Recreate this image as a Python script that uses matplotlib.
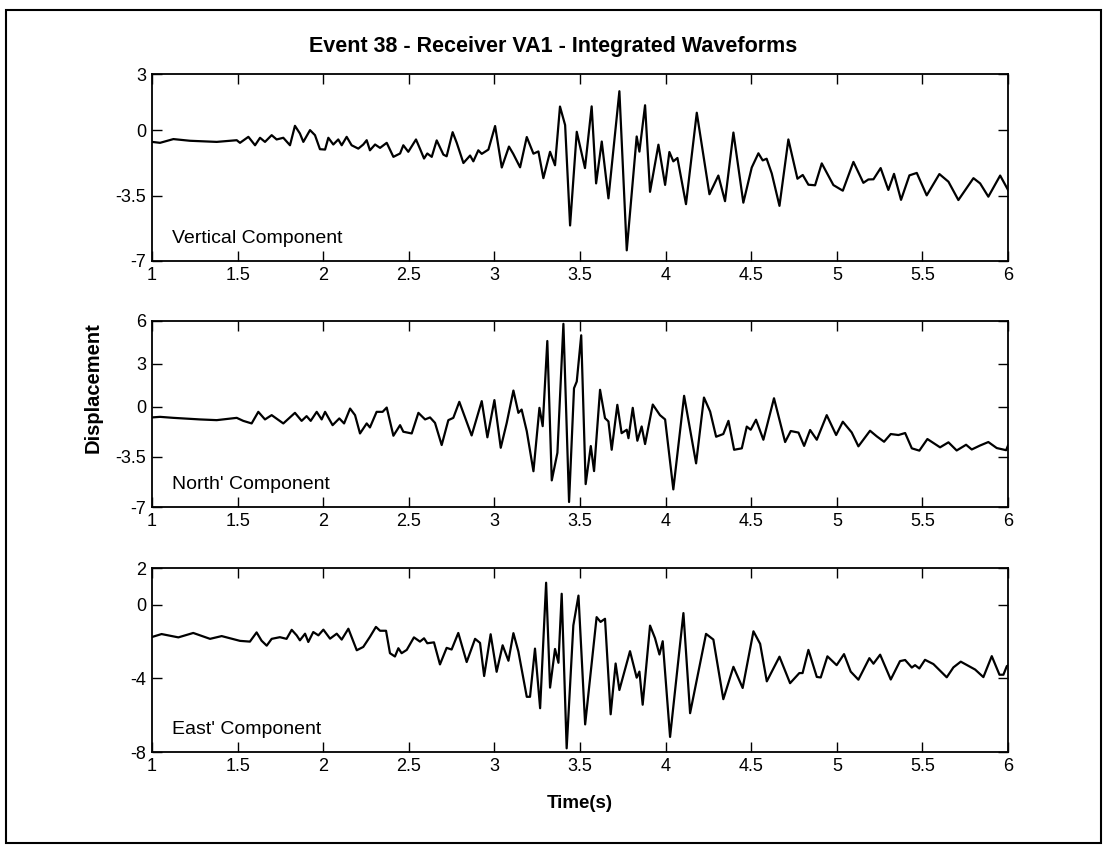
import matplotlib
matplotlib.use("Agg")
import matplotlib.pyplot as plt
from matplotlib.patches import Rectangle

plt.rcParams['font.family'] = ['Liberation Sans', 'DejaVu Sans']

# time axis ticks
xticks = [1, 1.5, 2, 2.5, 3, 3.5, 4, 4.5, 5, 5.5, 6]
xticklabels = ['1', '1.5', '2', '2.5', '3', '3.5', '4', '4.5', '5', '5.5', '6']

# Vertical component
t_vert = [1.0, 1.047, 1.125, 1.222, 1.378, 1.495, 1.514, 1.563, 1.602, 1.631, 1.660, 1.699,
          1.728, 1.767, 1.806, 1.835, 1.864, 1.884, 1.923, 1.952, 1.981, 2.011, 2.030, 2.059,
          2.088, 2.108, 2.137, 2.166, 2.205, 2.234, 2.254, 2.273, 2.303, 2.332, 2.371, 2.410,
          2.449, 2.468, 2.497, 2.542, 2.565, 2.589, 2.608, 2.634, 2.663, 2.702, 2.721, 2.756,
          2.780, 2.819, 2.858, 2.877, 2.906, 2.926, 2.965, 3.004, 3.043, 3.085, 3.11, 3.15,
          3.189, 3.228, 3.257, 3.286, 3.325, 3.354, 3.383, 3.413, 3.442, 3.481, 3.529, 3.568,
          3.594, 3.627, 3.666, 3.730, 3.773, 3.831, 3.847, 3.880, 3.909, 3.958, 3.997, 4.022,
          4.045, 4.069, 4.119, 4.182, 4.256, 4.308, 4.347, 4.396, 4.454, 4.503, 4.542, 4.567,
          4.590, 4.620, 4.665, 4.717, 4.77, 4.801, 4.834, 4.873, 4.912, 4.98, 5.035, 5.097,
          5.155, 5.184, 5.214, 5.256, 5.301, 5.334, 5.375, 5.424, 5.467, 5.525, 5.599, 5.652,
          5.710, 5.798, 5.837, 5.885, 5.954, 6.0]
d_vert = [-0.63, -0.68, -0.48, -0.57, -0.63, -0.54, -0.68, -0.36, -0.81, -0.41, -0.63, -0.27,
          -0.5, -0.41, -0.81, 0.23, -0.18, -0.63, 0.0, -0.27, -1.02, -1.04, -0.41, -0.77,
          -0.5, -0.81, -0.36, -0.81, -0.99, -0.77, -0.54, -1.08, -0.77, -0.95, -0.68, -1.43,
          -1.25, -0.81, -1.16, -0.5, -0.99, -1.52, -1.25, -1.43, -0.55, -1.31, -1.4, -0.11,
          -0.68, -1.76, -1.36, -1.67, -1.08, -1.27, -1.04, 0.22, -2.0, -0.88, -1.27, -1.99,
          -0.37, -1.26, -1.14, -2.57, -1.16, -1.88, 1.26, 0.27, -5.1, -0.09, -2.03, 1.27,
          -2.85, -0.61, -3.65, 2.08, -6.43, -0.34, -1.15, 1.33, -3.3, -0.78, -2.93, -1.17,
          -1.67, -1.49, -3.96, 0.93, -3.43, -2.43, -3.8, -0.13, -3.88, -2.0, -1.24, -1.62,
          -1.53, -2.32, -4.05, -0.5, -2.6, -2.4, -2.92, -2.95, -1.78, -2.94, -3.24, -1.7,
          -2.82, -2.64, -2.63, -2.03, -3.2, -2.34, -3.73, -2.42, -2.29, -3.49, -2.35, -2.76,
          -3.74, -2.57, -2.85, -3.56, -2.43, -3.2]

# North' component
t_north = [1.0, 1.047, 1.125, 1.28, 1.378, 1.495, 1.533, 1.582, 1.621, 1.66, 1.699, 1.767,
           1.835, 1.874, 1.903, 1.927, 1.962, 1.991, 2.011, 2.055, 2.094, 2.122, 2.157, 2.186,
           2.215, 2.254, 2.273, 2.312, 2.347, 2.371, 2.41, 2.449, 2.468, 2.517, 2.556, 2.595,
           2.624, 2.653, 2.692, 2.731, 2.76, 2.795, 2.867, 2.926, 2.959, 3.0, 3.037, 3.072,
           3.111, 3.14, 3.159, 3.189, 3.228, 3.263, 3.282, 3.309, 3.335, 3.368, 3.403, 3.436,
           3.465, 3.481, 3.507, 3.533, 3.563, 3.582, 3.617, 3.646, 3.666, 3.685, 3.718, 3.743,
           3.773, 3.783, 3.808, 3.835, 3.86, 3.88, 3.925, 3.967, 3.997, 4.045, 4.108, 4.178,
           4.224, 4.26, 4.295, 4.337, 4.367, 4.4, 4.445, 4.474, 4.497, 4.528, 4.571, 4.633,
           4.698, 4.731, 4.776, 4.809, 4.844, 4.883, 4.941, 4.996, 5.035, 5.087, 5.126, 5.194,
           5.233, 5.276, 5.315, 5.36, 5.399, 5.438, 5.482, 5.529, 5.603, 5.652, 5.7, 5.755,
           5.788, 5.837, 5.885, 5.934, 5.989, 6.0]
d_north = [-0.74, -0.7, -0.77, -0.88, -0.93, -0.77, -0.98, -1.16, -0.35, -0.88, -0.58, -1.16,
           -0.42, -0.98, -0.65, -0.98, -0.35, -0.88, -0.35, -1.28, -0.81, -1.16, -0.12, -0.58,
           -1.86, -1.16, -1.44, -0.35, -0.35, -0.05, -2.02, -1.28, -1.74, -1.86, -0.42, -0.88,
           -0.74, -1.12, -2.67, -0.93, -0.77, 0.35, -2.0, 0.4, -2.13, 0.47, -2.86, -1.12,
           1.14, -0.42, -0.19, -1.7, -4.5, -0.07, -1.35, 4.6, -5.14, -3.21, 5.8, -6.65,
           1.3, 1.77, 5.0, -5.4, -2.74, -4.49, 1.19, -0.79, -1.02, -3.0, 0.14, -1.84,
           -1.6, -2.19, -0.07, -2.37, -1.37, -2.6, 0.16, -0.58, -0.88, -5.77, 0.77, -3.95,
           0.65, -0.33, -2.09, -1.9, -0.98, -3.0, -2.9, -1.38, -1.6, -0.9, -2.3, 0.6,
           -2.46, -1.69, -1.8, -2.73, -1.62, -2.3, -0.58, -1.97, -1.04, -1.79, -2.76, -1.67,
           -2.06, -2.44, -1.9, -1.97, -1.83, -2.9, -3.06, -2.25, -2.83, -2.48, -3.05, -2.65,
           -2.98, -2.7, -2.46, -2.88, -3.03, -2.7]

# East' component
t_east = [1.0, 1.056, 1.154, 1.241, 1.339, 1.407, 1.514, 1.572, 1.611, 1.64, 1.67, 1.699,
          1.747, 1.786, 1.816, 1.845, 1.864, 1.894, 1.913, 1.942, 1.972, 2.001, 2.04, 2.079,
          2.108, 2.147, 2.196, 2.234, 2.273, 2.308, 2.332, 2.367, 2.39, 2.419, 2.439, 2.458,
          2.488, 2.53, 2.565, 2.589, 2.608, 2.647, 2.682, 2.721, 2.75, 2.789, 2.838, 2.887,
          2.916, 2.94, 2.978, 3.013, 3.048, 3.082, 3.111, 3.14, 3.189, 3.208, 3.237, 3.267,
          3.302, 3.325, 3.354, 3.374, 3.393, 3.422, 3.461, 3.491, 3.53, 3.597, 3.62, 3.646,
          3.679, 3.708, 3.73, 3.792, 3.831, 3.847, 3.866, 3.909, 3.938, 3.964, 3.983, 4.026,
          4.104, 4.143, 4.236, 4.279, 4.337, 4.396, 4.45, 4.513, 4.552, 4.591, 4.665, 4.727,
          4.781, 4.8, 4.834, 4.883, 4.906, 4.945, 4.999, 5.042, 5.081, 5.126, 5.19, 5.214,
          5.253, 5.315, 5.369, 5.399, 5.438, 5.457, 5.482, 5.515, 5.564, 5.603, 5.642, 5.681,
          5.724, 5.759, 5.808, 5.856, 5.905, 5.95, 5.973, 5.993, 6.0]
d_east = [-1.75, -1.59, -1.77, -1.53, -1.85, -1.7, -1.96, -2.0, -1.5, -1.95, -2.22, -1.85,
          -1.76, -1.85, -1.36, -1.66, -1.93, -1.57, -2.02, -1.48, -1.66, -1.35, -1.84, -1.57,
          -1.89, -1.3, -2.47, -2.29, -1.74, -1.2, -1.41, -1.41, -2.63, -2.81, -2.36, -2.63,
          -2.45, -1.77, -2.0, -1.82, -2.09, -2.04, -3.24, -2.34, -2.43, -1.53, -3.11, -1.85,
          -2.07, -3.87, -1.6, -3.64, -2.2, -3.04, -1.54, -2.54, -5.0, -5.0, -2.38, -5.62,
          1.2, -4.5, -2.4, -3.15, 0.6, -7.8, -1.12, 0.5, -6.5, -0.67, -0.93, -0.76,
          -5.95, -3.19, -4.63, -2.52, -3.96, -3.63, -5.43, -1.13, -1.81, -2.7, -1.98, -7.18,
          -0.45, -5.89, -1.58, -1.89, -5.13, -3.37, -4.52, -1.44, -2.12, -4.16, -2.82, -4.26,
          -3.71, -3.71, -2.45, -3.92, -3.95, -2.8, -3.28, -2.68, -3.63, -4.07, -2.9, -3.2,
          -2.71, -4.06, -3.06, -3.0, -3.41, -3.28, -3.46, -2.99, -3.22, -3.58, -3.94, -3.4,
          -3.09, -3.27, -3.52, -3.93, -2.79, -3.8, -3.8, -3.33, -3.3]

yticks_vert = [-7, -3.5, 0, 3]
yticks_north = [-7, -3.5, 0, 3, 6]
yticks_east = [-8, -4, 0, 2]

panels = [
    (t_vert, d_vert, yticks_vert, "Vertical Component", [0.1373, 0.6915, 0.7733, 0.2210]),
    (t_north, d_north, yticks_north, "North' Component", [0.1373, 0.4007, 0.7733, 0.2199]),
    (t_east, d_east, yticks_east, "East' Component", [0.1373, 0.1111, 0.7733, 0.2175]),
]

fig = plt.figure(figsize=(11.07, 8.46), dpi=100)

axes = []
for t, d, yt, name, pos in panels:
    ax = fig.add_axes(pos)
    ax.plot(t, d, color='black', lw=1.6, solid_joinstyle='round')
    ax.set_xlim(1, 6)
    ax.set_ylim(yt[0], yt[-1])
    ax.set_xticks(xticks)
    ax.set_xticklabels(xticklabels)
    ax.set_yticks(yt)
    ax.set_yticklabels(['%g' % v for v in yt])
    ax.tick_params(direction='in', length=7, width=1, top=True, right=True,
                   labelsize=13, pad=4)
    for s in ax.spines.values():
        s.set_linewidth(1.3)
    ax.text(0.023, 0.12, name, transform=ax.transAxes, fontsize=14, va='center')
    axes.append(ax)

fig.text(0.5, 0.945, "Event 38 - Receiver VA1 - Integrated Waveforms",
         ha='center', va='center', fontsize=15.5, fontweight='bold')
fig.text(0.084, 0.5414, "Displacement", rotation=90, ha='center', va='center',
         fontsize=14.5, fontweight='bold')
axes[-1].set_xlabel("Time(s)", fontsize=13.5, fontweight='bold', labelpad=15)

# page frame
fig.add_artist(Rectangle((0.005, 0.004), 0.99, 0.984, transform=fig.transFigure,
                         fill=False, lw=1.5, color='black'))

fig.savefig("out.png", dpi=100)
